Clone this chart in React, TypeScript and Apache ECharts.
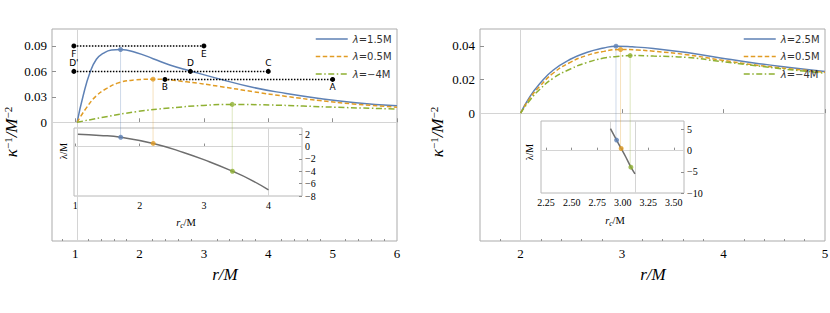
import React, { useEffect, useRef } from 'react';
import * as echarts from 'echarts';

// ---------- colours ----------
const BLUE = '#5e81b5';
const ORANGE = '#e19c24';
const GREEN = '#8fb032';
const COLORS = [BLUE, ORANGE, GREEN];
const DASHES: any[] = ['solid', [4.5, 2.5], [6, 2.5, 1.5, 2.5]];
const FRAME = '#ababab';
const GRIDC = '#d4d4d4';
const SERIF = 'Liberation Serif';
const SANS = 'DejaVu Sans';

// ---------- left panel data ----------
const L_NAMES = ['λ=1.5M', 'λ=0.5M', 'λ=−4M'];
const L_BLUE_R = [1.03, 1.124, 1.23, 1.33, 1.435, 1.565, 1.705, 1.954, 2.21, 2.47, 2.79, 3.25, 3.77, 4.28, 4.8, 5.32, 6.0];
const L_BLUE_K = [0, 0.0313, 0.0586, 0.0743, 0.0813, 0.0852, 0.0858, 0.082, 0.075, 0.0676, 0.0605, 0.0509, 0.041, 0.034, 0.0281, 0.0234, 0.0194];
const L_ORANGE_R = [1.03, 1.18, 1.33, 1.49, 1.69, 1.95, 2.21, 2.73, 3.25, 3.77, 4.28, 4.8, 5.32, 6.0];
const L_ORANGE_K = [0, 0.0176, 0.0313, 0.0399, 0.0469, 0.05, 0.0508, 0.0477, 0.0422, 0.036, 0.0305, 0.0256, 0.0216, 0.0178];
const L_GREEN_R = [1.03, 1.435, 1.95, 2.47, 2.99, 3.44, 4.02, 4.54, 5.06, 6.0];
const L_GREEN_K = [0, 0.0059, 0.0125, 0.0168, 0.0199, 0.0211, 0.0204, 0.0192, 0.0177, 0.0157];
const L_PEAK_R = [1.705, 2.21, 3.44];
const L_PEAK_K = [0.0858, 0.0508, 0.0211];
const L_INSET_RC = [1.04, 1.38, 1.705, 2.21, 2.68, 3.09, 3.44, 3.71, 4.0];
const L_INSET_LAM = [2.0, 1.8, 1.5, 0.5, -0.95, -2.5, -4.0, -5.3, -7.0];
const L_INSET_PT_LAM = [1.5, 0.5, -4];
const L_X_TICKS = [1, 2, 3, 4, 5, 6];
const L_Y_TICKS = [0, 0.03, 0.06, 0.09];
const L_INSET_X_TICKS = [1, 2, 3, 4];
const L_INSET_Y_TICKS = [-8, -6, -4, -2, 0, 2];
const L_HORIZON = 1.03;
const L_INSET_VLINES = [4];
// dotted segments
const FE_R = [0.98, 3.0];
const FE_K = 0.09;
const FE_NAMES = ['F', 'E'];
const DC_R = [0.98, 2.79, 4.0];
const DC_K = 0.06;
const DC_NAMES = ["D'", 'D', 'C'];
const BA_R = [2.395, 5.0];
const BA_K = 0.0505;
const BA_NAMES = ['B', 'A'];

// ---------- right panel data ----------
const R_NAMES = ['λ=2.5M', 'λ=0.5M', 'λ=−4M'];
const R_BLUE_R = [2.0, 2.09, 2.19, 2.32, 2.49, 2.65, 2.82, 2.94, 3.1, 3.31, 3.64, 3.97, 4.3, 4.63, 5.0];
const R_BLUE_K = [0, 0.0097, 0.0176, 0.0255, 0.032, 0.036, 0.0387, 0.0398, 0.0394, 0.0384, 0.036, 0.0328, 0.0298, 0.0273, 0.0248];
const R_ORANGE_R = [2.0, 2.09, 2.19, 2.32, 2.49, 2.65, 2.82, 2.985, 3.15, 3.31, 3.64, 3.97, 4.3, 4.63, 5.0];
const R_ORANGE_K = [0, 0.0088, 0.016, 0.0237, 0.0302, 0.0342, 0.0367, 0.0378, 0.0375, 0.0368, 0.0347, 0.0316, 0.0287, 0.0265, 0.0243];
const R_GREEN_R = [2.0, 2.09, 2.19, 2.32, 2.49, 2.65, 2.82, 2.95, 3.08, 3.31, 3.64, 3.97, 4.3, 4.63, 5.0];
const R_GREEN_K = [0, 0.0075, 0.0142, 0.0207, 0.0262, 0.03, 0.0327, 0.0337, 0.0342, 0.0339, 0.0331, 0.0307, 0.0283, 0.026, 0.0237];
const R_PEAK_R = [2.94, 2.985, 3.08];
const R_PEAK_K = [0.0398, 0.0378, 0.0342];
const R_INSET_RC = [2.88, 2.94, 2.985, 3.03, 3.08, 3.12];
const R_INSET_LAM = [5.2, 2.5, 0.5, -1.5, -3.9, -5.5];
const R_INSET_PT_LAM = [2.5, 0.5, -3.9];
const R_X_TICKS = [2, 3, 4, 5];
const R_Y_TICKS = [0, 0.02, 0.04];
const R_INSET_X_TICKS = [2.25, 2.5, 2.75, 3.0, 3.25, 3.5];
const R_INSET_Y_TICKS = [-10, -5, 0, 5];
const R_HORIZON = 2;
const R_INSET_VLINES = [2.885, 3.115];

// ---------- helpers ----------
const zip = (xs: number[], ys: number[]) => xs.map((x, i) => [x, ys[i]]);
const minorTicks = (a: number, b: number, step: number) => {
  const out: number[] = [];
  for (let v = a; v <= b + 1e-9; v += step) {
    const r = +v.toFixed(3);
    if (Math.abs(r - Math.round(r)) > 1e-6) out.push(r);
  }
  return out;
};
const minusFmt = (v: number) => (v < 0 ? '−' + Math.abs(v) : String(v));

const tickStyle = { color: '#8f8f8f', width: 1 };

function mainX(gridIndex: number, min: number, max: number, ticks: number[]) {
  return {
    type: 'value', gridIndex, min, max, position: 'bottom',
    axisLine: { show: false }, splitLine: { show: false },
    axisTick: { show: true, inside: true, length: 4, customValues: ticks, lineStyle: tickStyle },
    axisLabel: { customValues: ticks, fontFamily: SERIF, fontSize: 13, color: '#000', margin: 6, formatter: (v: number) => String(v) },
  };
}
function minorX(gridIndex: number, min: number, max: number, ticks: number[]) {
  return {
    type: 'value', gridIndex, min, max, position: 'bottom',
    axisLine: { show: false }, splitLine: { show: false }, axisLabel: { show: false },
    axisTick: { show: true, inside: true, length: 2, customValues: ticks, lineStyle: tickStyle },
  };
}
function mainY(gridIndex: number, min: number, max: number, ticks: number[]) {
  return {
    type: 'value', gridIndex, min, max, position: 'left',
    axisLine: { show: false }, splitLine: { show: false },
    axisTick: { show: true, inside: true, length: 4, customValues: ticks, lineStyle: tickStyle },
    axisLabel: { customValues: ticks, fontFamily: SERIF, fontSize: 13, color: '#000', margin: 5, formatter: (v: number) => String(v) },
  };
}
function insetX(gridIndex: number, min: number, max: number, ticks: number[], fmt: (v: number) => string) {
  return {
    type: 'value', gridIndex, min, max, position: 'bottom',
    axisLine: { show: false }, splitLine: { show: false },
    axisTick: { show: true, inside: true, length: 3, customValues: ticks, lineStyle: tickStyle },
    axisLabel: { customValues: ticks, fontFamily: SERIF, fontSize: 10, color: '#000', margin: 4, formatter: fmt },
  };
}
function insetY(gridIndex: number, min: number, max: number, ticks: number[]) {
  return {
    type: 'value', gridIndex, min, max, position: 'right',
    axisLine: { show: false }, splitLine: { show: false },
    axisTick: { show: true, inside: true, length: 3, customValues: ticks, lineStyle: tickStyle },
    axisLabel: { customValues: ticks, fontFamily: SERIF, fontSize: 10, color: '#000', margin: 3, formatter: minusFmt },
  };
}

function curve(name: string, xs: number[], ys: number[], i: number, xi: number, yi: number) {
  return {
    type: 'line', name, xAxisIndex: xi, yAxisIndex: yi, data: zip(xs, ys),
    symbol: 'none', smooth: 0.5, z: 3,
    lineStyle: { color: COLORS[i], width: 1.5, type: DASHES[i] },
    itemStyle: { color: COLORS[i] },
  };
}
function gridLines(xi: number, yi: number, xs: number[], ys: number[]) {
  return {
    type: 'line', xAxisIndex: xi, yAxisIndex: yi, data: [], silent: true,
    markLine: {
      silent: true, symbol: ['none', 'none'], label: { show: false }, z: 1,
      lineStyle: { color: GRIDC, width: 1, type: 'solid' },
      data: [...xs.map((v) => ({ xAxis: v })), ...ys.map((v) => ({ yAxis: v }))],
    },
  };
}
function markers(xs: number[], ys: number[], xi: number, yi: number) {
  return {
    type: 'scatter', xAxisIndex: xi, yAxisIndex: yi, symbolSize: 5, z: 6, silent: true,
    data: xs.map((x, i) => ({ value: [x, ys[i]], itemStyle: { color: COLORS[i] } })),
  };
}
function segment(rs: number[], k: number, names: string[], pos: string) {
  return {
    type: 'line', xAxisIndex: 0, yAxisIndex: 0, z: 5, silent: true,
    data: rs.map((r) => [r, k]),
    symbol: 'circle', symbolSize: 5, showSymbol: true, showAllSymbol: true,
    itemStyle: { color: '#000' },
    lineStyle: { color: '#000', width: 1.5, type: [1.5, 1.5] },
    label: {
      show: true, position: pos, distance: 1, fontFamily: SANS, fontSize: 9, color: '#000',
      formatter: (p: any) => names[p.dataIndex],
    },
  };
}
function legend(names: string[], left: number) {
  return {
    data: names, left, top: 34, orient: 'vertical', padding: 0,
    itemWidth: 32, itemHeight: 10, itemGap: 7.5, selectedMode: false,
    itemStyle: { opacity: 0 },
    lineStyle: { width: 1.5 },
    textStyle: {
      fontFamily: SANS, fontSize: 10, color: '#333', lineHeight: 10,
      rich: { i: { fontFamily: SANS, fontSize: 10, fontStyle: 'italic', color: '#333' } },
    },
    formatter: (n: string) => '{i|λ}' + n.slice(1),
  };
}

export default function App() {
  const ref = useRef<HTMLDivElement>(null);
  useEffect(() => {
    document.body.style.margin = '0';
    if (!ref.current) return;
    const chart = echarts.init(ref.current, undefined, { renderer: 'svg' });
    const gridBase = { show: true, borderColor: FRAME, borderWidth: 1, backgroundColor: 'transparent', containLabel: false, outerBoundsMode: 'none' };
    const option: any = {
      animation: false,
      grid: [
        { ...gridBase, left: 52, top: 29, width: 345, height: 212 },
        { ...gridBase, left: 74, top: 128, width: 228, height: 68, borderColor: '#b8b8b8' },
        { ...gridBase, left: 480, top: 29, width: 345, height: 212 },
        { ...gridBase, left: 541, top: 121, width: 143, height: 72, borderColor: '#b8b8b8' },
      ],
      xAxis: [
        mainX(0, 0.64, 6, L_X_TICKS),
        minorX(0, 0.64, 6, minorTicks(0.8, 5.8, 0.2)),
        insetX(1, 0.98, 4.52, L_INSET_X_TICKS, (v) => String(v)),
        mainX(2, 1.6, 5, R_X_TICKS),
        minorX(2, 1.6, 5, minorTicks(1.8, 4.8, 0.2)),
        insetX(3, 2.2, 3.6, R_INSET_X_TICKS, (v) => v.toFixed(2)),
      ],
      yAxis: [
        mainY(0, -0.14, 0.11, L_Y_TICKS),
        insetY(1, -8, 3, L_INSET_Y_TICKS),
        mainY(2, -0.076, 0.05, R_Y_TICKS),
        insetY(3, -10, 7, R_INSET_Y_TICKS),
      ],
      legend: [legend(L_NAMES, 315), legend(R_NAMES, 743)],
      series: [
        gridLines(0, 0, [L_HORIZON], [0]),
        gridLines(2, 1, L_INSET_VLINES, [0]),
        gridLines(3, 2, [R_HORIZON], [0]),
        gridLines(5, 3, R_INSET_VLINES, [0]),
        curve(L_NAMES[0], L_BLUE_R, L_BLUE_K, 0, 0, 0),
        curve(L_NAMES[1], L_ORANGE_R, L_ORANGE_K, 1, 0, 0),
        curve(L_NAMES[2], L_GREEN_R, L_GREEN_K, 2, 0, 0),
        segment(FE_R, FE_K, FE_NAMES, 'bottom'),
        segment(DC_R, DC_K, DC_NAMES, 'top'),
        segment(BA_R, BA_K, BA_NAMES, 'bottom'),
        markers(L_PEAK_R, L_PEAK_K, 0, 0),
        {
          type: 'line', xAxisIndex: 2, yAxisIndex: 1, data: zip(L_INSET_RC, L_INSET_LAM),
          symbol: 'none', smooth: 0.5, z: 3, lineStyle: { color: '#6e6e6e', width: 1.5 },
        },
        markers(L_PEAK_R, L_INSET_PT_LAM, 2, 1),
        curve(R_NAMES[0], R_BLUE_R, R_BLUE_K, 0, 3, 2),
        curve(R_NAMES[1], R_ORANGE_R, R_ORANGE_K, 1, 3, 2),
        curve(R_NAMES[2], R_GREEN_R, R_GREEN_K, 2, 3, 2),
        markers(R_PEAK_R, R_PEAK_K, 3, 2),
        {
          type: 'line', xAxisIndex: 5, yAxisIndex: 3, data: zip(R_INSET_RC, R_INSET_LAM),
          symbol: 'none', smooth: 0.3, z: 3, lineStyle: { color: '#6e6e6e', width: 1.5 },
        },
        markers(R_PEAK_R, R_INSET_PT_LAM, 5, 3),
      ],
    };
    chart.setOption(option);

    // connectors from main peaks down to inset points (through library scales)
    const conns: any[] = [];
    const addConn = (rs: number[], ks: number[], lams: number[], mx: number, my: number, ix: number, iy: number) => {
      rs.forEach((r, i) => {
        const a = chart.convertToPixel({ xAxisIndex: mx, yAxisIndex: my } as any, [r, ks[i]]) as number[];
        const b = chart.convertToPixel({ xAxisIndex: ix, yAxisIndex: iy } as any, [r, lams[i]]) as number[];
        if (!a || !b) return;
        conns.push({
          type: 'line', silent: true, z: 1,
          shape: { x1: a[0], y1: a[1], x2: a[0], y2: b[1] },
          style: { stroke: COLORS[i], lineWidth: 1, opacity: 0.3 },
        });
      });
    };
    addConn(L_PEAK_R, L_PEAK_K, L_INSET_PT_LAM, 0, 0, 2, 1);
    addConn(R_PEAK_R, R_PEAK_K, R_INSET_PT_LAM, 3, 2, 5, 3);

    const yTitle = (x: number) => ({
      type: 'text', x, y: 132, rotation: Math.PI / 2, silent: true,
      style: {
        text: '{a|κ}{s|−1}{a|/M}{s|−2}', align: 'center', verticalAlign: 'middle', fill: '#000',
        rich: {
          a: { fontFamily: SERIF, fontSize: 17, fontStyle: 'italic', fill: '#000' },
          s: { fontFamily: SERIF, fontSize: 11, verticalAlign: 'top', fill: '#000' },
        },
      },
    });
    const xTitle = (x: number) => ({
      type: 'text', x, y: 274, silent: true,
      style: { text: 'r/M', fontFamily: SERIF, fontSize: 17, fontStyle: 'italic', fill: '#000', align: 'center', verticalAlign: 'middle' },
    });
    const lamTitle = (x: number, y: number) => ({
      type: 'text', x, y, rotation: Math.PI / 2, silent: true,
      style: { text: 'λ/M', fontFamily: SERIF, fontSize: 10, fill: '#000', align: 'center', verticalAlign: 'middle' },
    });
    const rcTitle = (x: number, y: number) => ({
      type: 'text', x, y, silent: true,
      style: {
        text: '{r|r}{c|c}{m|/M}', align: 'center', verticalAlign: 'middle', fill: '#000',
        rich: {
          r: { fontFamily: SERIF, fontSize: 10.5, fontStyle: 'italic', fill: '#000', lineHeight: 14 },
          c: { fontFamily: SERIF, fontSize: 7.5, fontStyle: 'italic', verticalAlign: 'bottom', fill: '#000', lineHeight: 14 },
          m: { fontFamily: SERIF, fontSize: 10.5, fill: '#000', lineHeight: 14 },
        },
      },
    });

    chart.setOption({
      graphic: {
        elements: [
          ...conns,
          yTitle(11), yTitle(437),
          xTitle(225), xTitle(653),
          lamTitle(63, 151), lamTitle(529, 152),
          rcTitle(186, 222), rcTitle(615, 220),
        ],
      },
    });

    return () => chart.dispose();
  }, []);
  return <div ref={ref} style={{ width: 830, height: 313 }} />;
}
